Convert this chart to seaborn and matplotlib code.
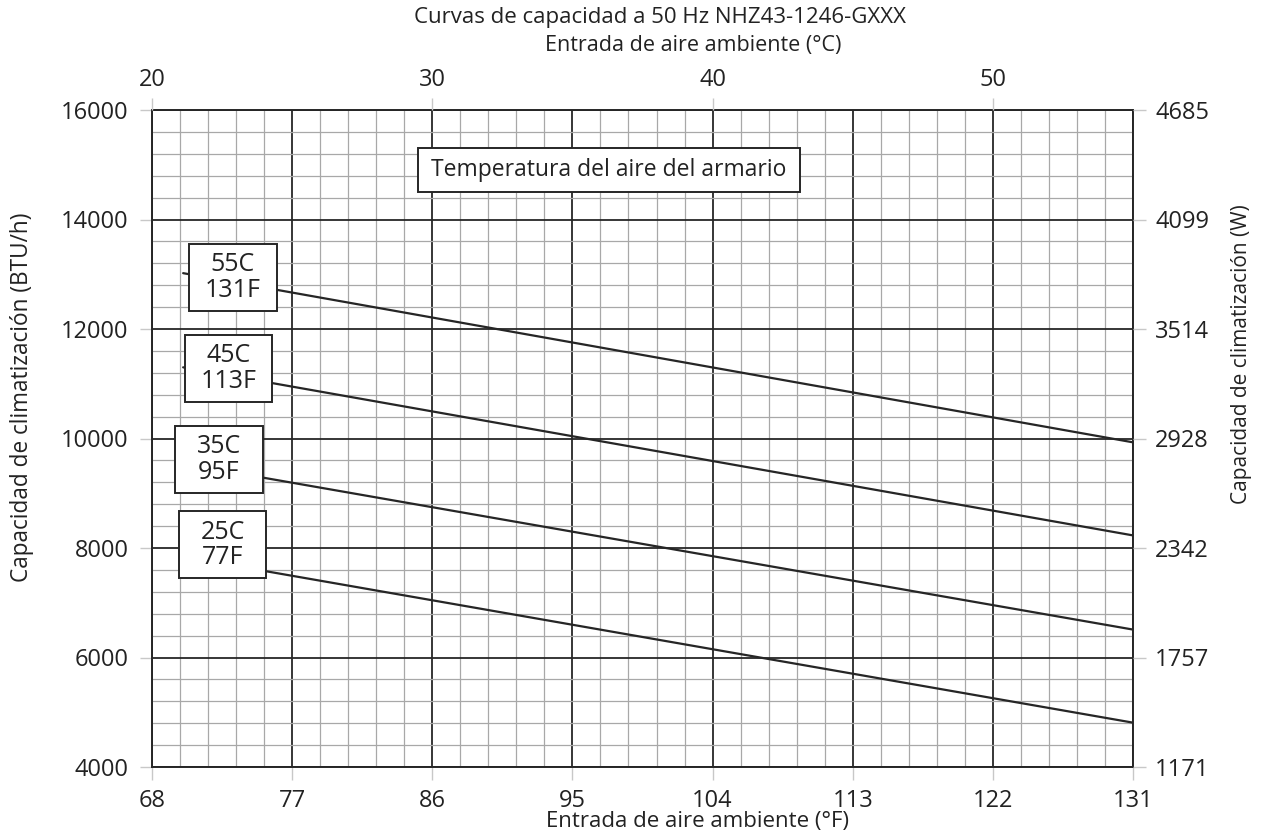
import numpy as np
import pandas as pd
import matplotlib
matplotlib.use("Agg")
import matplotlib.pyplot as plt
import seaborn as sns
from matplotlib.ticker import FixedLocator
from matplotlib.patches import Rectangle

# ---- data ----
series_names = ["55C 131F", "45C 113F", "35C 95F", "25C 77F"]
x_start = [70, 70, 70, 70]          # °F
x_end = [131, 131, 131, 131]        # °F
y_start = [13020, 11300, 9540, 7840]  # BTU/h
y_end = [9930, 8230, 6510, 4810]      # BTU/h

label_text = ["55C\n131F", "45C\n113F", "35C\n95F", "25C\n77F"]
label_x = [73.2, 72.9, 72.3, 72.55]
label_y = [12940, 11270, 9610, 8055]

f_ticks = [68, 77, 86, 95, 104, 113, 122, 131]
c_tick_pos = [68, 86, 104, 122]
c_tick_labels = ["20", "30", "40", "50"]
btu_ticks = [4000, 6000, 8000, 10000, 12000, 14000, 16000]
w_labels = ["1171", "1757", "2342", "2928", "3514", "4099", "4685"]

title = "Curvas de capacidad a 50 Hz NHZ43-1246-GXXX"
xlabel_c = "Entrada de aire ambiente (°C)"
xlabel_f = "Entrada de aire ambiente (°F)"
ylabel_l = "Capacidad de climatización (BTU/h)"
ylabel_r = "Capacidad de climatización (W)"
note = "Temperatura del aire del armario"

rows = []
for n, xs, xe, ys, ye in zip(series_names, x_start, x_end, y_start, y_end):
    rows.append({"serie": n, "F": xs, "BTU": ys})
    rows.append({"serie": n, "F": xe, "BTU": ye})
df = pd.DataFrame(rows)

# ---- style ----
sns.set_style("white")
plt.rcParams["font.family"] = ["Open Sans", "DejaVu Sans"]
dark = "#262626"
txt = "#222222"
tick_gray = "#c8c8c8"

W, H = 1262, 839
L, R, T, B = 152, 1133, 110, 767
fig = plt.figure(figsize=(W / 100, H / 100), dpi=100)
ax = fig.add_axes([L / W, 1 - B / H, (R - L) / W, (B - T) / H])

sns.lineplot(data=df, x="F", y="BTU", units="serie", estimator=None,
             color=dark, linewidth=1.6, ax=ax, zorder=3, legend=False)

ax.set_xlim(68, 131)
ax.set_ylim(4000, 16000)
ax.xaxis.set_major_locator(FixedLocator(f_ticks))
ax.xaxis.set_minor_locator(FixedLocator(np.linspace(68, 131, 36)))
ax.yaxis.set_major_locator(FixedLocator(btu_ticks))
ax.yaxis.set_minor_locator(FixedLocator(np.linspace(4000, 16000, 31)))
ax.set_xticklabels([str(t) for t in f_ticks])
ax.set_yticklabels([str(t) for t in btu_ticks])

ax.grid(which="major", color=dark, linewidth=1.3, zorder=1)
ax.grid(which="minor", color="#a8a8a8", linewidth=0.9, zorder=0)
ax.set_axisbelow(True)
for s in ax.spines.values():
    s.set_color(dark)
    s.set_linewidth(1.4)

ax.tick_params(which="major", length=9, width=1, color=tick_gray,
               labelsize=17, labelcolor=txt, pad=7)
ax.tick_params(axis="y", which="major", pad=8)
ax.tick_params(which="minor", length=0)
ax.set_xlabel(xlabel_f, fontsize=16, color=txt)
ax.xaxis.set_label_coords((698 - L) / (R - L), -(822 - B) / (B - T))
ax.xaxis.label.set_va("center")
ax.set_ylabel(ylabel_l, fontsize=16.3, color=txt)
ax.yaxis.set_label_coords(-(L - 22) / (R - L), (B - 397) / (B - T))
ax.yaxis.label.set_va("center")

# right axis (W)
axr = ax.twinx()
axr.set_ylim(ax.get_ylim())
axr.yaxis.set_major_locator(FixedLocator(btu_ticks))
axr.set_yticklabels(w_labels)
axr.tick_params(length=9, width=1, color=tick_gray, labelsize=17,
                labelcolor=txt, pad=7)
axr.set_ylabel(ylabel_r, fontsize=15, color=txt)
axr.yaxis.set_label_coords(1 + (1241 - R) / (R - L), (B - 354) / (B - T))
axr.yaxis.label.set_va("center")
axr.grid(False)
for s in axr.spines.values():
    s.set_visible(False)

# top axis (°C)
axt = ax.twiny()
axt.set_xlim(ax.get_xlim())
axt.xaxis.set_major_locator(FixedLocator(c_tick_pos))
axt.set_xticklabels(c_tick_labels)
axt.tick_params(length=9, width=1, color=tick_gray, labelsize=17,
                labelcolor=txt, pad=4)
axt.set_xlabel(xlabel_c, fontsize=15.5, color=txt)
axt.xaxis.set_label_coords((693 - L) / (R - L), 1 + (T - 45) / (B - T))
axt.xaxis.label.set_va("center")
axt.grid(False)
for s in axt.spines.values():
    s.set_visible(False)

fig.text(660 / W, 1 - 17 / H, title, ha="center", va="center",
         fontsize=16, color=txt)

# label boxes (size ~ 87 px x 67 px, expressed in data units)
bw, bh = 87 / 140 * 9, 67 / 109.5 * 2000
for t, lx, ly in zip(label_text, label_x, label_y):
    ax.add_patch(Rectangle((lx - bw / 2, ly - bh / 2), bw, bh, facecolor="white",
                           edgecolor=dark, linewidth=1.4, zorder=5))
    ax.text(lx, ly, t, ha="center", va="center", fontsize=18, color=txt,
            zorder=6, linespacing=1.05)

nw, nh = 381 / 140 * 9, 44 / 109.5 * 2000
nx, ny = 97.35, 14905
ax.add_patch(Rectangle((nx - nw / 2, ny - nh / 2), nw, nh, facecolor="white",
                       edgecolor=dark, linewidth=1.4, zorder=5))
ax.text(nx, ny, note, ha="center", va="center", fontsize=16.5, color=txt, zorder=6)

fig.savefig("out.png", dpi=100)
